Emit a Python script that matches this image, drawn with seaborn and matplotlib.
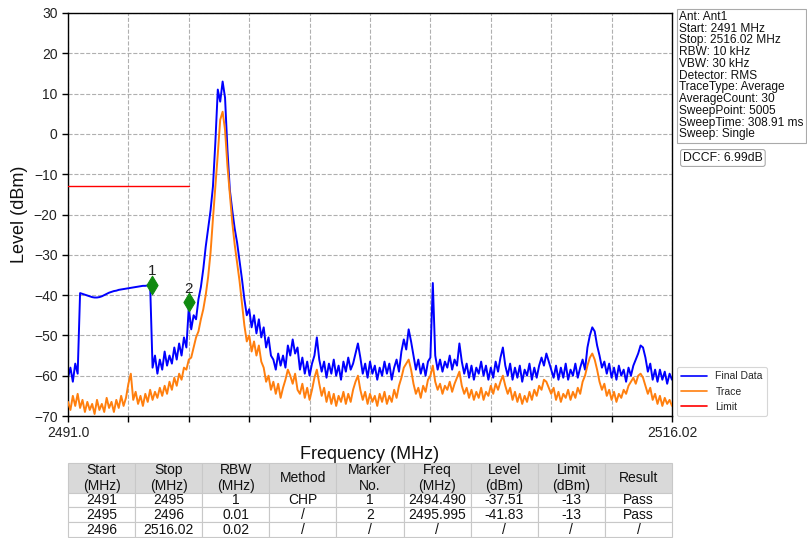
import numpy as np
import pandas as pd
import matplotlib
matplotlib.use("Agg")
import matplotlib.pyplot as plt
import seaborn as sns
from matplotlib.lines import Line2D

# ---------------- data ----------------
freq_start = 2491.0
freq_stop = 2516.02

final_data = [
    -60.5, -58.0, -61.5, -57.0, -59.5,
    -39.5, -39.7, -39.9, -40.1, -40.3, -40.5, -40.6, -40.6, -40.5, -40.3,
    -40.0, -39.7, -39.4, -39.2, -39.0, -38.9, -38.7, -38.6, -38.5, -38.4,
    -38.3, -38.2, -38.1, -38.0, -37.9, -37.8, -37.7, -37.7, -37.6, -37.5,
    -58.0, -55.0, -59.5, -56.0, -58.5, -54.0, -57.5, -55.0, -57.0, -53.0,
    -56.0, -52.0, -55.0, -50.5, -53.0,
    -43.0, -48.5, -45.0, -46.0, -41.0, -38.0, -33.5, -28.0, -23.5, -19.0,
    -13.0, -2.0, 11.0, 8.0, 13.0, 9.0, -4.0, -14.0, -19.0, -23.5,
    -27.0, -31.5, -36.0, -41.0, -45.0, -43.5, -48.0, -45.0, -49.5, -46.0,
    -50.5, -48.0, -53.0, -50.5, -55.0,
    -56.0, -58.5, -54.5, -57.5, -55.0, -58.0, -52.5, -55.0, -51.0, -54.5,
    -53.0, -58.5, -55.5, -59.5, -56.5, -60.0, -57.0, -55.0, -50.5, -56.0,
    -59.0, -56.5, -60.5, -57.0, -59.5, -56.0, -60.0, -57.5, -61.0, -56.5,
    -59.0, -55.5, -58.5, -57.0, -54.5, -52.0, -55.5, -59.5, -57.0, -60.5,
    -56.5, -59.5, -57.5, -61.0, -58.0, -60.0, -56.5, -59.5, -57.0, -61.0,
    -58.0, -56.0, -59.0, -54.0, -51.0, -53.5, -48.5, -51.5, -55.0, -58.5,
    -56.0, -59.5, -57.0, -60.0, -56.5, -55.5, -37.0, -55.0, -58.5, -56.0,
    -59.0, -56.5, -58.0, -55.0, -58.5, -56.0, -57.5, -52.0, -56.5, -59.5,
    -57.0, -60.5, -57.5, -61.0, -58.0, -59.5, -56.5, -60.0, -57.5, -61.0,
    -58.0, -60.5, -56.5, -59.0, -55.5, -53.0, -57.5, -60.0, -57.0, -61.0,
    -58.0, -60.5, -57.5, -61.5, -58.5, -60.0, -57.0, -61.0, -58.0, -60.5,
    -57.5, -55.5, -57.5, -54.5, -56.5, -58.5, -60.5, -57.5, -61.0, -58.0,
    -60.5, -57.0, -61.0, -58.5, -60.0, -57.0, -60.5, -58.0, -56.0, -58.5,
    -53.0, -50.0, -48.0, -49.0, -52.5, -55.0, -58.0, -56.5, -59.5, -57.0,
    -60.5, -58.0, -61.0, -57.5, -60.0, -58.5, -61.5, -58.0, -60.0, -57.5,
    -56.0, -54.5, -52.5, -53.0, -55.5, -59.0, -57.0, -61.0, -58.5, -61.5,
    -58.5, -61.0, -59.0, -62.0, -59.5, -61.0,
]

trace = [
    -66.5, -68.5, -65.0, -67.5, -64.5, -68.0, -66.0, -69.0, -66.5, -68.5,
    -67.0, -69.5, -66.0, -68.5, -67.0, -69.0, -65.5, -68.0, -66.5, -69.0,
    -66.0, -68.0, -65.0, -67.5, -65.5, -62.0, -59.5, -66.0, -64.0, -67.0,
    -65.0, -67.5, -64.5, -66.5, -63.5, -66.0, -64.0, -65.5, -63.0, -65.0,
    -62.5, -64.5, -61.5, -63.5, -60.5, -62.5, -59.5, -61.0, -58.0, -58.5,
    -56.0, -55.5, -53.0, -50.5, -49.0, -46.0, -43.5, -40.0, -35.5, -29.5,
    -21.0, -13.0, -5.0, 3.5, 5.5, 1.0, -8.0, -15.0, -22.0, -27.5,
    -32.0, -36.5, -42.0, -47.5, -51.5, -50.0, -54.0, -51.5, -55.0, -52.5,
    -56.5, -58.0, -61.5, -60.0, -63.5, -61.5, -64.5, -62.0, -65.5, -63.0,
    -61.0, -58.5, -60.0, -62.0, -59.5, -63.5, -64.5, -62.0, -65.5, -63.0,
    -66.0, -63.5, -60.5, -58.5, -62.0, -65.0, -63.0, -66.5, -64.0, -67.0,
    -64.5, -67.5, -65.0, -66.5, -64.0, -67.0, -64.5, -66.5, -63.5, -61.5,
    -60.0, -63.5, -66.0, -64.0, -67.0, -64.5, -66.5, -65.0, -67.5, -64.5,
    -66.5, -64.0, -67.0, -65.0, -66.5, -63.5, -65.5, -62.5, -60.5, -58.0,
    -57.0, -56.0, -58.5, -62.0, -64.5, -63.0, -65.5, -62.5, -64.0, -61.0,
    -60.0, -57.5, -61.5, -63.5, -62.0, -64.5, -62.5, -63.5, -61.5, -64.0,
    -62.0, -60.5, -59.0, -62.5, -64.5, -63.0, -65.5, -63.5, -66.0, -64.0,
    -65.5, -63.0, -66.0, -64.0, -65.0, -62.5, -64.5, -62.0, -63.5, -61.5,
    -60.0, -62.5, -64.5, -63.0, -66.0, -64.0, -66.5, -64.5, -67.0, -65.0,
    -66.5, -64.0, -66.0, -63.5, -65.0, -62.5, -63.5, -61.0, -61.5, -63.0,
    -64.5, -63.0, -66.0, -64.0, -66.5, -64.5, -65.5, -63.5, -66.0, -64.0,
    -65.5, -63.0, -64.5, -61.5, -60.0, -57.5, -55.5, -54.5, -56.0, -58.5,
    -61.5, -63.5, -62.0, -65.0, -63.5, -66.0, -64.0, -66.5, -64.5, -65.5,
    -63.5, -64.5, -62.5, -61.5, -60.5, -62.0, -60.0, -59.5, -60.5, -62.5,
    -64.5, -63.0, -66.0, -64.5, -67.0, -65.0, -67.5, -65.5, -67.0, -66.0,
    -67.5,
]

limit_freq = [2491.0, 2496.0]
limit_level = [-13.0, -13.0]

marker_no = ["1", "2"]
marker_freq = [2494.490, 2495.995]
marker_level = [-37.51, -41.83]

y_ticks = [-70, -60, -50, -40, -30, -20, -10, 0, 10, 20, 30]
x_tick_labels = ["2491.0", "", "", "", "", "", "", "", "", "", "2516.02"]

info_lines = [
    "Ant: Ant1",
    "Start: 2491 MHz",
    "Stop: 2516.02 MHz",
    "RBW: 10 kHz",
    "VBW: 30 kHz",
    "Detector: RMS",
    "TraceType: Average",
    "AverageCount: 30",
    "SweepPoint: 5005",
    "SweepTime: 308.91 ms",
    "Sweep: Single",
]
dccf_text = "DCCF: 6.99dB"

legend_labels = ["Final Data", "Trace", "Limit"]

table_header = ["Start\n(MHz)", "Stop\n(MHz)", "RBW\n(MHz)", "Method",
                "Marker\nNo.", "Freq\n(MHz)", "Level\n(dBm)", "Limit\n(dBm)", "Result"]
table_start = ["2491", "2495", "2496"]
table_stop = ["2495", "2496", "2516.02"]
table_rbw = ["1", "0.01", "0.02"]
table_method = ["CHP", "/", "/"]
table_marker = ["1", "2", "/"]
table_freq = ["2494.490", "2495.995", "/"]
table_level = ["-37.51", "-41.83", "/"]
table_limit = ["-13", "-13", "/"]
table_result = ["Pass", "Pass", "/"]

# ---------------- style ----------------
sns.set_theme(style="white")
plt.rcParams['font.family'] = ['Liberation Sans', 'DejaVu Sans']

W, H = 807, 538
fig = plt.figure(figsize=(W / 100, H / 100), dpi=100)
ax = fig.add_axes([68 / W, 1 - 416 / H, 604 / W, 403 / H])

freq = np.linspace(freq_start, freq_stop, len(final_data))
df = pd.DataFrame({"freq": freq, "final": final_data, "trace": trace})

sns.lineplot(data=df, x="freq", y="final", color="#0000ff", lw=1.4,
             estimator=None, sort=False, ax=ax, zorder=2)
sns.lineplot(data=df, x="freq", y="trace", color="#ff7f0e", lw=1.4,
             estimator=None, sort=False, ax=ax, zorder=3)
sns.lineplot(x=limit_freq, y=limit_level, color="#ff0000", lw=1.0,
             estimator=None, ax=ax, zorder=4)
sns.scatterplot(x=marker_freq, y=marker_level, marker="d", s=90,
                color="#108a10", edgecolor="#108a10", ax=ax, zorder=5)
for n, f, l in zip(marker_no, marker_freq, marker_level):
    ax.annotate(n, (f, l), xytext=(0, 5), textcoords="offset points",
                ha="center", va="bottom", fontsize=11, color="#222222")

ax.set_xlim(freq_start, freq_stop)
ax.set_ylim(-70, 30)
ax.set_xticks(np.linspace(freq_start, freq_stop, len(x_tick_labels)))
ax.set_xticklabels(x_tick_labels)
ax.set_yticks(y_ticks)
ax.tick_params(axis="both", which="both", bottom=True, left=True,
               direction="out", length=4, width=1, color="black",
               labelsize=10, labelcolor="#222222")
ax.grid(True, ls="--", color="#b0b0b0", lw=0.8)
for s in ax.spines.values():
    s.set_color("black")
    s.set_linewidth(1.0)
ax.set_xlabel("Frequency (MHz)", fontsize=13, color="#111111")
ax.set_ylabel("Level (dBm)", fontsize=13, color="#111111")

handles = [Line2D([0], [0], color=c, lw=1.2) for c in ["#0000ff", "#ff7f0e", "#ff0000"]]
leg = ax.legend(handles, legend_labels, loc="lower left", bbox_to_anchor=(1.008, 0.0),
                borderaxespad=0, fontsize=7.5, frameon=True, fancybox=True,
                handlelength=2.5, labelspacing=0.5)
leg.get_frame().set_edgecolor("#cccccc")
leg.get_frame().set_linewidth(0.8)

fig.text(679 / W, 1 - 11 / H, "\n".join(info_lines), va="top", ha="left",
         fontsize=8.6, linespacing=0.97, color="#111111",
         bbox=dict(boxstyle="square,pad=0.2", fc="white", ec="#aaaaaa", lw=0.8))
fig.text(683 / W, 1 - 158 / H, dccf_text, va="center", ha="left",
         fontsize=8.8, color="#111111",
         bbox=dict(boxstyle="round,pad=0.2", fc="white", ec="#aaaaaa", lw=0.8))

# ---------------- table ----------------
tax = fig.add_axes([68 / W, 1 / H, 604 / W, 74 / H])
tax.axis("off")
rows = list(zip(table_start, table_stop, table_rbw, table_method, table_marker,
                table_freq, table_level, table_limit, table_result))
tbl = tax.table(cellText=[list(r) for r in rows], colLabels=table_header,
                cellLoc="center", bbox=[0, 0, 1, 1])
tbl.auto_set_font_size(False)
tbl.set_fontsize(10)
for (r, c), cell in tbl.get_celld().items():
    cell.set_edgecolor("#c8c8c8")
    cell.set_linewidth(0.8)
    cell.set_height(0.4 if r == 0 else 0.2)
    cell.get_text().set_color("#111111")
    if r == 0:
        cell.set_facecolor("#d9d9d9")
    else:
        cell.set_facecolor("white")

fig.savefig("out.png", dpi=100)
